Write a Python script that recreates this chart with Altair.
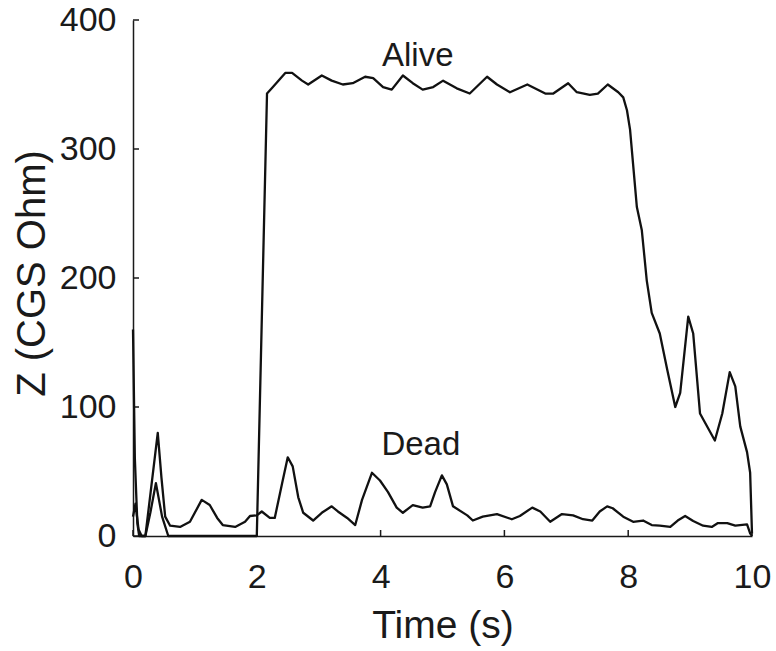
import altair as alt
import pandas as pd

# ---- data ----
alive_t = [0.0, 0.04, 0.09, 0.14, 0.2, 0.28, 0.37, 0.47, 0.57, 1.0,
           1.5, 1.99, 2.0, 2.165, 2.26, 2.46, 2.57, 2.73, 2.83, 3.05,
           3.21, 3.39, 3.55, 3.75, 3.88, 4.04, 4.18, 4.36, 4.52, 4.68,
           4.85, 5.01, 5.23, 5.44, 5.72, 5.88, 6.09, 6.37, 6.66, 6.79,
           7.03, 7.17, 7.38, 7.51, 7.67, 7.84, 7.92, 7.98, 8.03, 8.14,
           8.22, 8.30, 8.38, 8.51, 8.63, 8.76, 8.84, 8.97, 9.05, 9.16,
           9.40, 9.52, 9.64, 9.73, 9.81, 9.92, 9.97, 10.0]
alive_v = [15, 25, 5, 0, 0, 18, 41, 15, 0, 0,
           0, 0, 0, 343, 348, 359, 359, 353, 350, 357,
           353, 350, 351, 356, 355, 348, 346, 357, 351, 346,
           348, 353, 347, 343, 356, 350, 344, 350, 343, 343,
           351, 344, 342, 343, 350, 344, 340, 330, 315, 255,
           237, 198, 173, 157, 129, 100, 111, 170, 157, 95,
           74, 95, 127, 116, 85, 65, 49, 2]

dead_t = [0.0, 0.03, 0.07, 0.1, 0.2, 0.3, 0.4, 0.46, 0.52, 0.6,
          0.76, 0.92, 1.11, 1.24, 1.36, 1.45, 1.65, 1.81, 1.89, 2.0,
          2.08, 2.21, 2.29, 2.41, 2.50, 2.58, 2.67, 2.75, 2.91, 3.05,
          3.21, 3.31, 3.46, 3.59, 3.70, 3.86, 3.99, 4.12, 4.26, 4.36,
          4.52, 4.68, 4.80, 4.88, 4.99, 5.07, 5.17, 5.40, 5.49, 5.65,
          5.88, 6.12, 6.25, 6.45, 6.58, 6.74, 6.93, 7.11, 7.27, 7.42,
          7.54, 7.66, 7.75, 7.92, 8.08, 8.24, 8.38, 8.51, 8.68, 8.80,
          8.92, 9.05, 9.21, 9.35, 9.45, 9.60, 9.73, 9.92, 9.97, 10.0]
dead_v = [160, 60, 10, 0, 0, 40, 80, 45, 15, 8,
          7, 11, 28, 24, 14, 8.5, 7, 11, 15.5, 16,
          19, 14, 14, 41, 61, 54, 30, 18, 12, 18,
          23, 19, 14, 8.5, 28, 49, 43, 34, 22, 18,
          24, 22, 23, 34, 47, 40, 23, 16, 12, 15,
          17, 13, 15.5, 22, 19, 11, 17, 16, 13, 12,
          19, 23, 21.5, 15, 11, 12, 8.5, 8, 7, 12,
          15.5, 11.6, 8, 7, 10, 10, 8, 9, 2, 0]

label_text = ["Alive", "Dead"]
label_t = [4.6, 4.65]
label_v = [364, 63]

x_ticks = [0, 2, 4, 6, 8, 10]
y_ticks = [0, 100, 200, 300, 400]

# ---- tables ----
lines = pd.concat([
    pd.DataFrame({"t": alive_t, "z": alive_v, "series": "Alive"}),
    pd.DataFrame({"t": dead_t, "z": dead_v, "series": "Dead"}),
])
labels = pd.DataFrame({"t": label_t, "z": label_v, "text": label_text})
xt = pd.DataFrame({"t": x_ticks})
yt = pd.DataFrame({"z": y_ticks})

W, H = 619, 516
FONT = "Liberation Sans"
INK = "#1a1a1a"

xscale = alt.Scale(domain=[0, 10], nice=False, zero=False)
yscale = alt.Scale(domain=[0, 400], nice=False)

xaxis = alt.Axis(values=x_ticks, format="d", title="Time (s)", ticks=False,
                 grid=False, labelFlush=False, labelOverlap=False,
                 labelFontSize=34, labelFont=FONT, labelColor=INK,
                 labelPadding=24, domainColor=INK, domainWidth=1.5,
                 titleFont=FONT, titleFontSize=39, titleFontWeight="normal",
                 titleColor=INK, titleY=89, titleBaseline="middle")
yaxis = alt.Axis(values=y_ticks, format="d", title="Z (CGS Ohm)", ticks=False,
                 grid=False, labelFlush=False, labelOverlap=False,
                 labelFontSize=34, labelFont=FONT, labelColor=INK,
                 labelPadding=17, domainColor=INK, domainWidth=1.5,
                 titleFont=FONT, titleFontSize=40, titleFontWeight="normal",
                 titleColor=INK, titleX=-101, titleY=253, titleAngle=270,
                 titleAlign="center", titleBaseline="middle")

line_chart = alt.Chart(lines).mark_line(color="#111111", strokeWidth=2.3,
                                        strokeJoin="round").encode(
    x=alt.X("t:Q", scale=xscale, axis=xaxis),
    y=alt.Y("z:Q", scale=yscale, axis=yaxis),
    detail="series:N",
)

text_chart = alt.Chart(labels).mark_text(font=FONT, fontSize=33, color=INK,
                                         align="center", baseline="alphabetic").encode(
    x=alt.X("t:Q", scale=xscale),
    y=alt.Y("z:Q", scale=yscale),
    text="text:N",
)

xtick_chart = alt.Chart(xt).mark_rule(color=INK, strokeWidth=1.5).encode(
    x=alt.X("t:Q", scale=xscale),
    y=alt.value(H),
    y2=alt.value(H - 6),
)
ytick_chart = alt.Chart(yt).mark_rule(color=INK, strokeWidth=1.5).encode(
    y=alt.Y("z:Q", scale=yscale),
    x=alt.value(0),
    x2=alt.value(6),
)

chart = alt.layer(xtick_chart, ytick_chart, line_chart, text_chart).properties(
    width=W, height=H,
    autosize=alt.AutoSizeParams(type="none"),
    padding={"left": 133, "top": 20, "right": 24, "bottom": 115},
    background="white",
).configure_view(stroke=None)

chart.save("out.html", embed_options={"renderer": "svg", "actions": False})
